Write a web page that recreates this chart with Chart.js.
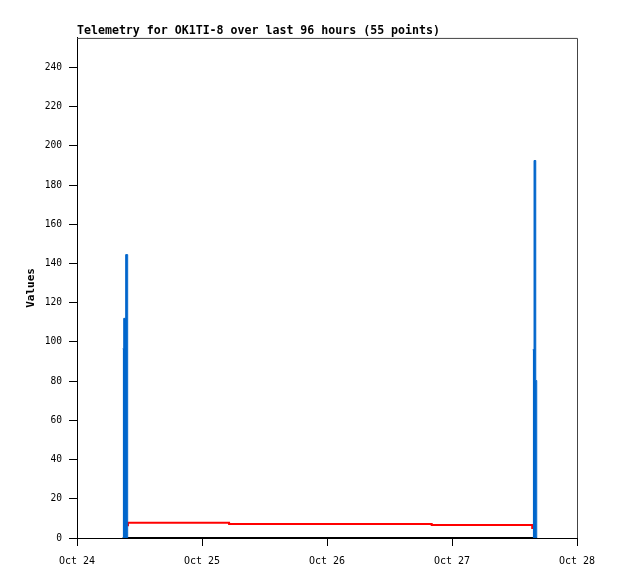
<!DOCTYPE html>
<html>
<head>
<meta charset="utf-8">
<title>Telemetry OK1TI-8</title>
<script src="https://cdn.jsdelivr.net/npm/chart.js@4.4.1/dist/chart.umd.min.js"></script>
<style>
  html, body { margin: 0; padding: 0; background: #fff; }
  canvas { display: block; }
</style>
</head>
<body>
<canvas id="telemetry" width="618" height="579"></canvas>
<script>
// hours since Oct 24 00:00
const tickHours = [0, 24, 48, 72, 96];
const tickLabels = ['Oct 24', 'Oct 25', 'Oct 26', 'Oct 27', 'Oct 28'];
const valueTicks = [0, 20, 40, 60, 80, 100, 120, 140, 160, 180, 200, 220, 240];

// blue impulses (two bursts), null splits them
const blueHours = [8.77, 8.97, 9.35, 9.73, 48, 87.5, 87.75, 88.08, 88.27];
const blueValues = [96.5, 112, 144.5, 0, null, 96, 192.5, 80.3, 0];

// red step line
const redHours = [9.0, 9.8, 29.2, 68.1, 87.4];
const redValues = [6.5, 7.8, 7.15, 6.6, 4.6];

// black zero line
const zeroHours = [8.77, 88.27];
const zeroValues = [0, 0];

const toPoints = (xs, ys) => xs.map((x, i) => ({ x: x, y: ys[i] }));

const mono = 'DejaVu Sans Mono';

// gray frame on top and right of the plot
const framePlugin = {
  id: 'frame',
  afterDraw(chart) {
    const { ctx, chartArea: a } = chart;
    ctx.save();
    ctx.strokeStyle = '#444';
    ctx.lineWidth = 1;
    ctx.beginPath();
    ctx.moveTo(a.left, a.top + 0.5);
    ctx.lineTo(a.right + 0.5, a.top + 0.5);
    ctx.lineTo(a.right + 0.5, a.bottom);
    ctx.stroke();
    ctx.restore();
  }
};

new Chart(document.getElementById('telemetry'), {
  type: 'line',
  data: {
    datasets: [
      {
        label: 'blue',
        data: toPoints(blueHours, blueValues),
        stepped: 'before',
        borderWidth: 1,
        borderColor: '#0066cc',
        backgroundColor: '#0066cc',
        fill: 'origin',
        pointRadius: 0,
        spanGaps: false
      },
      {
        label: 'red',
        data: toPoints(redHours, redValues),
        stepped: 'before',
        borderWidth: 2,
        borderColor: '#ff0000',
        fill: false,
        pointRadius: 0
      },
      {
        label: 'zero',
        data: toPoints(zeroHours, zeroValues),
        borderWidth: 2,
        borderColor: '#000',
        fill: false,
        pointRadius: 0
      }
    ]
  },
  options: {
    responsive: false,
    animation: false,
    events: [],
    layout: { padding: { left: 0, right: 41, top: 0, bottom: 0 } },
    plugins: {
      legend: { display: false },
      tooltip: { enabled: false },
      title: {
        display: true,
        text: 'Telemetry for OK1TI-8 over last 96 hours (55 points)',
        align: 'start',
        fullSize: false,
        color: '#000',
        font: { family: mono, size: 11.6, weight: 'bold', lineHeight: 1.2 },
        padding: { top: 24, bottom: 0 }
      }
    },
    scales: {
      x: {
        type: 'linear',
        min: 0,
        max: 96,
        afterFit(scale) { scale.height = 41; },
        afterBuildTicks(scale) { scale.ticks = tickHours.map(v => ({ value: v })); },
        border: { display: true, color: '#000', width: 1 },
        grid: { drawOnChartArea: false, drawTicks: true, tickLength: 8, color: '#000' },
        ticks: {
          color: '#000',
          autoSkip: false,
          maxRotation: 0,
          padding: 9,
          font: { family: mono, size: 10 },
          callback: (v) => tickLabels[tickHours.indexOf(v)]
        }
      },
      y: {
        min: 0,
        max: 255,
        afterFit(scale) { scale.width = 77; },
        afterBuildTicks(scale) { scale.ticks = valueTicks.map(v => ({ value: v })); },
        border: { display: true, color: '#000', width: 1 },
        grid: { drawOnChartArea: false, drawTicks: true, tickLength: 8, color: '#000' },
        ticks: {
          color: '#000',
          padding: 7,
          font: { family: mono, size: 9.6 }
        },
        title: {
          display: true,
          text: 'Values',
          color: '#000',
          font: { family: mono, size: 11, weight: 'bold', lineHeight: 1.2 },
          padding: { top: 25, bottom: 0 }
        }
      }
    }
  },
  plugins: [framePlugin]
});
</script>
</body>
</html>
